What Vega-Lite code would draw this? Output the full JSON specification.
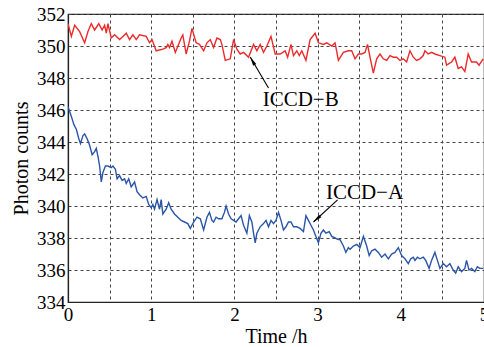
{
  "$schema": "https://vega.github.io/schema/vega-lite/v6.json",
  "width": 416,
  "height": 288,
  "autosize": {"type": "none"},
  "padding": {"left": 68, "top": 14, "right": 0, "bottom": 45},
  "background": "white",
  "config": {
    "font": "Liberation Serif",
    "view": {"stroke": "#222222", "strokeWidth": 1.2},
    "axis": {
      "labelFont": "Liberation Serif",
      "titleFont": "Liberation Serif",
      "labelFontSize": 19,
      "labelColor": "black",
      "titleFontSize": 20,
      "titleFontWeight": "normal",
      "titleColor": "black",
      "grid": true,
      "gridDash": [3, 3],
      "gridColor": "#444444",
      "gridWidth": 1,
      "ticks": false,
      "domainColor": "#222222",
      "domainWidth": 1.2,
      "labelFlush": false,
      "labelBound": false,
      "labelOverlap": false
    }
  },
  "datasets": {
    "series": [
      {"s": "B", "t": 0.00, "v": 351.4}, {"s": "B", "t": 0.04, "v": 350.6}, {"s": "B", "t": 0.08, "v": 351.3}, {"s": "B", "t": 0.14, "v": 350.9},
      {"s": "B", "t": 0.20, "v": 350.2}, {"s": "B", "t": 0.24, "v": 350.9}, {"s": "B", "t": 0.28, "v": 351.4}, {"s": "B", "t": 0.32, "v": 351.0},
      {"s": "B", "t": 0.37, "v": 351.4}, {"s": "B", "t": 0.41, "v": 351.0}, {"s": "B", "t": 0.44, "v": 351.3}, {"s": "B", "t": 0.46, "v": 350.8},
      {"s": "B", "t": 0.48, "v": 351.4}, {"s": "B", "t": 0.52, "v": 350.5}, {"s": "B", "t": 0.56, "v": 350.7}, {"s": "B", "t": 0.62, "v": 350.4},
      {"s": "B", "t": 0.66, "v": 350.6}, {"s": "B", "t": 0.70, "v": 350.8}, {"s": "B", "t": 0.74, "v": 350.4}, {"s": "B", "t": 0.78, "v": 350.7},
      {"s": "B", "t": 0.82, "v": 350.4}, {"s": "B", "t": 0.86, "v": 350.7}, {"s": "B", "t": 0.94, "v": 350.6}, {"s": "B", "t": 0.98, "v": 350.2},
      {"s": "B", "t": 1.01, "v": 350.4}, {"s": "B", "t": 1.06, "v": 349.7}, {"s": "B", "t": 1.14, "v": 349.8}, {"s": "B", "t": 1.18, "v": 349.9},
      {"s": "B", "t": 1.20, "v": 350.1}, {"s": "B", "t": 1.22, "v": 349.9}, {"s": "B", "t": 1.25, "v": 350.3}, {"s": "B", "t": 1.29, "v": 349.6},
      {"s": "B", "t": 1.36, "v": 350.5}, {"s": "B", "t": 1.38, "v": 350.7}, {"s": "B", "t": 1.42, "v": 349.5}, {"s": "B", "t": 1.46, "v": 350.3},
      {"s": "B", "t": 1.49, "v": 351.1}, {"s": "B", "t": 1.54, "v": 350.2}, {"s": "B", "t": 1.58, "v": 350.1}, {"s": "B", "t": 1.63, "v": 349.7},
      {"s": "B", "t": 1.67, "v": 350.2}, {"s": "B", "t": 1.71, "v": 350.4}, {"s": "B", "t": 1.75, "v": 349.9}, {"s": "B", "t": 1.79, "v": 350.5},
      {"s": "B", "t": 1.83, "v": 350.4}, {"s": "B", "t": 1.85, "v": 350.1}, {"s": "B", "t": 1.89, "v": 349.1}, {"s": "B", "t": 1.95, "v": 349.2},
      {"s": "B", "t": 1.99, "v": 350.4}, {"s": "B", "t": 2.03, "v": 349.8}, {"s": "B", "t": 2.07, "v": 349.5}, {"s": "B", "t": 2.11, "v": 349.6},
      {"s": "B", "t": 2.17, "v": 349.3}, {"s": "B", "t": 2.23, "v": 350.1}, {"s": "B", "t": 2.27, "v": 349.7}, {"s": "B", "t": 2.31, "v": 350.1},
      {"s": "B", "t": 2.35, "v": 349.6}, {"s": "B", "t": 2.39, "v": 350.0}, {"s": "B", "t": 2.44, "v": 350.6}, {"s": "B", "t": 2.49, "v": 349.5},
      {"s": "B", "t": 2.55, "v": 349.5}, {"s": "B", "t": 2.61, "v": 349.7}, {"s": "B", "t": 2.64, "v": 349.3}, {"s": "B", "t": 2.68, "v": 350.1},
      {"s": "B", "t": 2.71, "v": 349.4}, {"s": "B", "t": 2.75, "v": 349.7}, {"s": "B", "t": 2.78, "v": 349.4}, {"s": "B", "t": 2.81, "v": 349.7},
      {"s": "B", "t": 2.86, "v": 349.1}, {"s": "B", "t": 2.91, "v": 350.4}, {"s": "B", "t": 2.97, "v": 350.8}, {"s": "B", "t": 3.01, "v": 350.2},
      {"s": "B", "t": 3.07, "v": 350.1}, {"s": "B", "t": 3.11, "v": 350.2}, {"s": "B", "t": 3.17, "v": 350.0}, {"s": "B", "t": 3.21, "v": 350.2},
      {"s": "B", "t": 3.25, "v": 349.1}, {"s": "B", "t": 3.31, "v": 349.6}, {"s": "B", "t": 3.37, "v": 349.7}, {"s": "B", "t": 3.41, "v": 349.7},
      {"s": "B", "t": 3.45, "v": 349.2}, {"s": "B", "t": 3.49, "v": 349.5}, {"s": "B", "t": 3.53, "v": 349.5}, {"s": "B", "t": 3.57, "v": 349.6},
      {"s": "B", "t": 3.60, "v": 350.1}, {"s": "B", "t": 3.63, "v": 349.3}, {"s": "B", "t": 3.67, "v": 348.3}, {"s": "B", "t": 3.71, "v": 349.2},
      {"s": "B", "t": 3.75, "v": 349.5}, {"s": "B", "t": 3.79, "v": 349.2}, {"s": "B", "t": 3.83, "v": 349.1}, {"s": "B", "t": 3.87, "v": 349.4},
      {"s": "B", "t": 3.91, "v": 349.3}, {"s": "B", "t": 3.95, "v": 349.3}, {"s": "B", "t": 3.99, "v": 349.1}, {"s": "B", "t": 4.03, "v": 349.2},
      {"s": "B", "t": 4.07, "v": 349.0}, {"s": "B", "t": 4.11, "v": 349.7}, {"s": "B", "t": 4.15, "v": 349.3}, {"s": "B", "t": 4.19, "v": 349.1},
      {"s": "B", "t": 4.23, "v": 349.2}, {"s": "B", "t": 4.27, "v": 349.4}, {"s": "B", "t": 4.29, "v": 349.7}, {"s": "B", "t": 4.33, "v": 349.5},
      {"s": "B", "t": 4.37, "v": 349.6}, {"s": "B", "t": 4.41, "v": 349.5}, {"s": "B", "t": 4.47, "v": 349.4}, {"s": "B", "t": 4.53, "v": 349.3},
      {"s": "B", "t": 4.55, "v": 348.8}, {"s": "B", "t": 4.61, "v": 349.0}, {"s": "B", "t": 4.65, "v": 349.3}, {"s": "B", "t": 4.69, "v": 348.6},
      {"s": "B", "t": 4.73, "v": 348.7}, {"s": "B", "t": 4.77, "v": 348.4}, {"s": "B", "t": 4.81, "v": 349.5}, {"s": "B", "t": 4.85, "v": 349.0},
      {"s": "B", "t": 4.91, "v": 349.0}, {"s": "B", "t": 4.94, "v": 348.8}, {"s": "B", "t": 4.99, "v": 349.2},

      {"s": "A", "t": 0.00, "v": 346.2}, {"s": "A", "t": 0.04, "v": 345.6}, {"s": "A", "t": 0.07, "v": 345.1}, {"s": "A", "t": 0.10, "v": 344.8},
      {"s": "A", "t": 0.13, "v": 344.2}, {"s": "A", "t": 0.15, "v": 343.9}, {"s": "A", "t": 0.18, "v": 344.4}, {"s": "A", "t": 0.20, "v": 344.5},
      {"s": "A", "t": 0.23, "v": 344.2}, {"s": "A", "t": 0.26, "v": 343.8}, {"s": "A", "t": 0.29, "v": 343.2}, {"s": "A", "t": 0.32, "v": 343.4},
      {"s": "A", "t": 0.34, "v": 343.6}, {"s": "A", "t": 0.36, "v": 343.1}, {"s": "A", "t": 0.38, "v": 342.5}, {"s": "A", "t": 0.40, "v": 341.5},
      {"s": "A", "t": 0.42, "v": 342.1}, {"s": "A", "t": 0.45, "v": 342.5}, {"s": "A", "t": 0.48, "v": 342.5}, {"s": "A", "t": 0.52, "v": 342.4},
      {"s": "A", "t": 0.54, "v": 342.5}, {"s": "A", "t": 0.57, "v": 342.3}, {"s": "A", "t": 0.59, "v": 341.7}, {"s": "A", "t": 0.62, "v": 341.9},
      {"s": "A", "t": 0.65, "v": 341.6}, {"s": "A", "t": 0.68, "v": 341.7}, {"s": "A", "t": 0.70, "v": 341.4}, {"s": "A", "t": 0.73, "v": 341.7},
      {"s": "A", "t": 0.76, "v": 341.2}, {"s": "A", "t": 0.80, "v": 341.5}, {"s": "A", "t": 0.83, "v": 340.9}, {"s": "A", "t": 0.86, "v": 340.7},
      {"s": "A", "t": 0.90, "v": 340.5}, {"s": "A", "t": 0.94, "v": 340.6}, {"s": "A", "t": 0.97, "v": 340.1}, {"s": "A", "t": 1.00, "v": 339.9},
      {"s": "A", "t": 1.02, "v": 340.1}, {"s": "A", "t": 1.04, "v": 339.8}, {"s": "A", "t": 1.07, "v": 340.4}, {"s": "A", "t": 1.10, "v": 339.8},
      {"s": "A", "t": 1.12, "v": 340.4}, {"s": "A", "t": 1.14, "v": 339.5}, {"s": "A", "t": 1.18, "v": 339.8}, {"s": "A", "t": 1.21, "v": 340.2},
      {"s": "A", "t": 1.24, "v": 339.8}, {"s": "A", "t": 1.28, "v": 339.5}, {"s": "A", "t": 1.32, "v": 339.3}, {"s": "A", "t": 1.36, "v": 339.1},
      {"s": "A", "t": 1.40, "v": 339.0}, {"s": "A", "t": 1.44, "v": 338.9}, {"s": "A", "t": 1.47, "v": 338.6}, {"s": "A", "t": 1.51, "v": 339.0},
      {"s": "A", "t": 1.55, "v": 339.3}, {"s": "A", "t": 1.59, "v": 339.2}, {"s": "A", "t": 1.63, "v": 338.5}, {"s": "A", "t": 1.67, "v": 339.3},
      {"s": "A", "t": 1.70, "v": 339.6}, {"s": "A", "t": 1.73, "v": 339.1}, {"s": "A", "t": 1.75, "v": 339.0}, {"s": "A", "t": 1.78, "v": 339.3},
      {"s": "A", "t": 1.81, "v": 339.2}, {"s": "A", "t": 1.85, "v": 339.2}, {"s": "A", "t": 1.88, "v": 339.6}, {"s": "A", "t": 1.90, "v": 340.0},
      {"s": "A", "t": 1.93, "v": 339.5}, {"s": "A", "t": 1.96, "v": 339.2}, {"s": "A", "t": 1.99, "v": 339.1}, {"s": "A", "t": 2.02, "v": 339.0},
      {"s": "A", "t": 2.05, "v": 339.2}, {"s": "A", "t": 2.08, "v": 339.4}, {"s": "A", "t": 2.11, "v": 338.8}, {"s": "A", "t": 2.15, "v": 338.3},
      {"s": "A", "t": 2.18, "v": 339.4}, {"s": "A", "t": 2.21, "v": 339.0}, {"s": "A", "t": 2.23, "v": 338.3}, {"s": "A", "t": 2.25, "v": 337.7},
      {"s": "A", "t": 2.27, "v": 338.3}, {"s": "A", "t": 2.31, "v": 338.7}, {"s": "A", "t": 2.35, "v": 338.9}, {"s": "A", "t": 2.38, "v": 339.1},
      {"s": "A", "t": 2.41, "v": 338.7}, {"s": "A", "t": 2.44, "v": 339.1}, {"s": "A", "t": 2.47, "v": 338.9}, {"s": "A", "t": 2.50, "v": 339.1},
      {"s": "A", "t": 2.53, "v": 339.6}, {"s": "A", "t": 2.56, "v": 339.1}, {"s": "A", "t": 2.59, "v": 338.5}, {"s": "A", "t": 2.62, "v": 338.7},
      {"s": "A", "t": 2.65, "v": 339.0}, {"s": "A", "t": 2.68, "v": 339.0}, {"s": "A", "t": 2.71, "v": 338.7}, {"s": "A", "t": 2.75, "v": 338.7},
      {"s": "A", "t": 2.79, "v": 338.6}, {"s": "A", "t": 2.83, "v": 338.4}, {"s": "A", "t": 2.86, "v": 339.4}, {"s": "A", "t": 2.89, "v": 339.1},
      {"s": "A", "t": 2.92, "v": 338.8}, {"s": "A", "t": 2.95, "v": 338.5}, {"s": "A", "t": 2.98, "v": 338.1}, {"s": "A", "t": 3.01, "v": 337.7},
      {"s": "A", "t": 3.04, "v": 338.3}, {"s": "A", "t": 3.07, "v": 338.5}, {"s": "A", "t": 3.10, "v": 338.3}, {"s": "A", "t": 3.14, "v": 338.4},
      {"s": "A", "t": 3.17, "v": 338.1}, {"s": "A", "t": 3.21, "v": 338.0}, {"s": "A", "t": 3.25, "v": 337.9}, {"s": "A", "t": 3.27, "v": 337.9},
      {"s": "A", "t": 3.31, "v": 337.5}, {"s": "A", "t": 3.34, "v": 337.1}, {"s": "A", "t": 3.37, "v": 337.4}, {"s": "A", "t": 3.39, "v": 337.3},
      {"s": "A", "t": 3.43, "v": 337.5}, {"s": "A", "t": 3.47, "v": 337.6}, {"s": "A", "t": 3.51, "v": 337.4}, {"s": "A", "t": 3.55, "v": 338.1},
      {"s": "A", "t": 3.59, "v": 337.5}, {"s": "A", "t": 3.62, "v": 336.9}, {"s": "A", "t": 3.65, "v": 337.2}, {"s": "A", "t": 3.69, "v": 337.3},
      {"s": "A", "t": 3.73, "v": 337.1}, {"s": "A", "t": 3.77, "v": 336.8}, {"s": "A", "t": 3.81, "v": 337.0}, {"s": "A", "t": 3.85, "v": 336.7},
      {"s": "A", "t": 3.89, "v": 337.0}, {"s": "A", "t": 3.93, "v": 337.1}, {"s": "A", "t": 3.97, "v": 337.4}, {"s": "A", "t": 4.01, "v": 336.9},
      {"s": "A", "t": 4.05, "v": 336.7}, {"s": "A", "t": 4.09, "v": 336.4}, {"s": "A", "t": 4.12, "v": 336.7}, {"s": "A", "t": 4.15, "v": 336.8},
      {"s": "A", "t": 4.17, "v": 336.6}, {"s": "A", "t": 4.20, "v": 336.8}, {"s": "A", "t": 4.23, "v": 336.7}, {"s": "A", "t": 4.27, "v": 336.8},
      {"s": "A", "t": 4.30, "v": 336.6}, {"s": "A", "t": 4.34, "v": 336.1}, {"s": "A", "t": 4.37, "v": 336.6}, {"s": "A", "t": 4.41, "v": 337.1},
      {"s": "A", "t": 4.44, "v": 336.6}, {"s": "A", "t": 4.47, "v": 336.1}, {"s": "A", "t": 4.51, "v": 336.4}, {"s": "A", "t": 4.55, "v": 336.2},
      {"s": "A", "t": 4.59, "v": 336.4}, {"s": "A", "t": 4.63, "v": 336.0}, {"s": "A", "t": 4.66, "v": 335.8}, {"s": "A", "t": 4.69, "v": 336.2},
      {"s": "A", "t": 4.73, "v": 335.9}, {"s": "A", "t": 4.77, "v": 336.1}, {"s": "A", "t": 4.79, "v": 336.6}, {"s": "A", "t": 4.82, "v": 336.0},
      {"s": "A", "t": 4.85, "v": 336.1}, {"s": "A", "t": 4.89, "v": 335.9}, {"s": "A", "t": 4.92, "v": 336.2}, {"s": "A", "t": 4.95, "v": 336.1},
      {"s": "A", "t": 4.99, "v": 336.1}
    ],
    "notes": [
      {"label": "ICCD−B", "tx": 2.34, "ty": 346.63, "hx": 2.19, "hy": 349.31, "ax": 2.41, "ay": 347.38},
      {"label": "ICCD−A", "tx": 3.10, "ty": 340.81, "hx": 2.95, "hy": 339.0, "ax": 3.24, "ay": 340.38}
    ]
  },
  "layer": [
    {
      "data": {"name": "series"},
      "mark": {"type": "line", "strokeWidth": 1.4, "clip": true},
      "encoding": {
        "x": {
          "field": "t", "type": "quantitative",
          "scale": {"domain": [0, 5], "nice": false, "zero": false},
          "axis": {
            "title": "Time /h",
            "values": [0, 0.5, 1, 1.5, 2, 2.5, 3, 3.5, 4, 4.5, 5],
            "tickCount": 20,
            "labelExpr": "datum.value % 1 === 0 ? format(datum.value, 'd') : ''",
            "labelOverlap": false,
            "labelPadding": 3,
            "titlePadding": 2
          }
        },
        "y": {
          "field": "v", "type": "quantitative",
          "scale": {"domain": [334, 352], "nice": false, "zero": false},
          "axis": {
            "title": "Photon counts",
            "values": [334, 336, 338, 340, 342, 344, 346, 348, 350, 352],
            "tickCount": 20,
            "format": "d",
            "labelOverlap": false,
            "labelPadding": 3,
            "titlePadding": 5
          }
        },
        "color": {
          "field": "s", "type": "nominal",
          "scale": {"domain": ["A", "B"], "range": ["#2b55a8", "#ec2a2c"]},
          "legend": null
        }
      }
    },
    {
      "data": {"name": "notes"},
      "mark": {"type": "rule", "color": "black", "strokeWidth": 1.1},
      "encoding": {
        "x": {"field": "hx", "type": "quantitative"},
        "y": {"field": "hy", "type": "quantitative"},
        "x2": {"field": "ax"},
        "y2": {"field": "ay"}
      }
    },
    {
      "data": {"name": "notes"},
      "transform": [{"filter": "datum.label === 'ICCD−B'"}],
      "mark": {"type": "point", "shape": "M0,0L0.4,2L-0.4,2Z", "filled": true, "color": "black", "opacity": 1, "size": 81, "angle": 330},
      "encoding": {
        "x": {"field": "hx", "type": "quantitative"},
        "y": {"field": "hy", "type": "quantitative"}
      }
    },
    {
      "data": {"name": "notes"},
      "transform": [{"filter": "datum.label === 'ICCD−A'"}],
      "mark": {"type": "point", "shape": "M0,0L0.4,2L-0.4,2Z", "filled": true, "color": "black", "opacity": 1, "size": 81, "angle": 228},
      "encoding": {
        "x": {"field": "hx", "type": "quantitative"},
        "y": {"field": "hy", "type": "quantitative"}
      }
    },
    {
      "data": {"name": "notes"},
      "mark": {"type": "text", "align": "left", "baseline": "middle", "font": "Liberation Serif", "fontSize": 21, "color": "black"},
      "encoding": {
        "x": {"field": "tx", "type": "quantitative"},
        "y": {"field": "ty", "type": "quantitative"},
        "text": {"field": "label"}
      }
    }
  ]
}
